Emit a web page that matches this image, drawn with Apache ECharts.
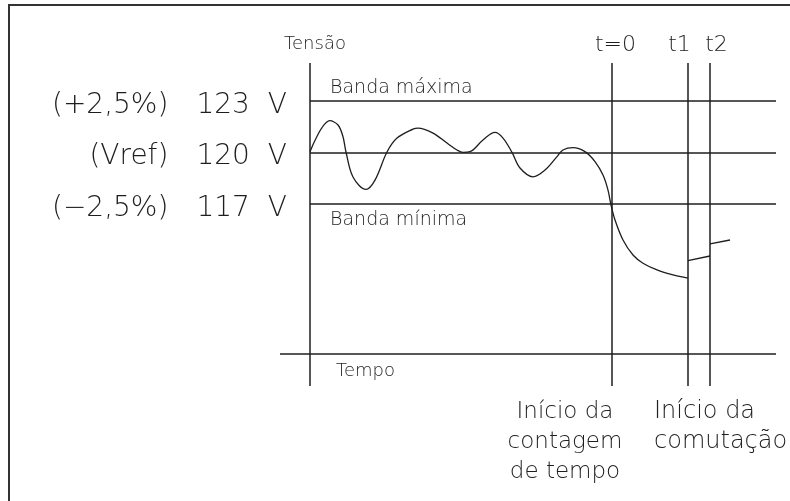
<!DOCTYPE html>
<html>
<head>
<meta charset="utf-8">
<title>Tensão x Tempo</title>
<script src="https://cdn.jsdelivr.net/npm/echarts@6/dist/echarts.min.js"></script>
<style>
  html, body { margin: 0; padding: 0; background: #fff; }
  #chart { width: 790px; height: 501px; }
</style>
</head>
<body>
<div id="chart"></div>
<script>
// voltage curve before the switching (time in arbitrary units, t=0 at the counting start)
const timeMain = [-30.2, -28.2, -27.4, -26.9, -26.6, -25.9, -24.6, -23.7, -22.5, -21.5,
  -19.9, -19.4, -17.9, -16.5, -15.5, -14.9, -14.2, -12.9, -11.7, -10.9,
  -10.0, -9.2, -7.9, -6.7, -5.5, -4.9, -3.9, -2.7, -1.7, -0.9,
  -0.4, -0.1, 0.3, 1.1, 2.1, 3.1, 4.5, 6.1, 7.6];
const voltMain = [120.05, 121.85, 121.6, 120.92, 120.03, 118.58, 117.86, 118.4, 120.03, 120.84,
  121.36, 121.42, 121.13, 120.55, 120.15, 120.01, 120.05, 120.73, 121.17, 120.84,
  120.01, 119.1, 118.59, 118.98, 119.76, 120.15, 120.28, 120.05, 119.47, 118.69,
  117.82, 116.95, 116.08, 114.92, 114.05, 113.57, 113.18, 112.89, 112.7];
// steps after t1 and t2
const timeT1T2 = [7.6, 9.8];
const voltT1T2 = [113.72, 113.99];
const timeAfterT2 = [9.8, 11.8];
const voltAfterT2 = [114.69, 114.92];

// bands
const bandLevels = [123, 120, 117];
const bandTags = ['(+2,5%)', '(Vref)', '(−2,5%)'];
const bandNames = ['Banda máxima', '', 'Banda mínima'];

// vertical markers
const markTimes = [0, 7.6, 9.8];
const markLabels = ['t=0', 't1', 't2'];

const axisTime = -30.2;      // where the Tensão axis stands
const timeAxisLevel = 108.3; // where the Tempo axis stands
const xMin = -33.2, xMax = 16.4;
const yMin = 106.44, yMax = 125.2;

const ink = '#1e1e1e';
const font = 'DejaVu Sans';
const weight = 200;

const pairs = (xs, ys) => xs.map((x, i) => [x, ys[i]]);

const straight = (a, b) => [{ coord: a }, { coord: b }];

const lineData = [
  straight([axisTime, yMin], [axisTime, yMax]),
  straight([xMin, timeAxisLevel], [xMax, timeAxisLevel]),
  ...bandLevels.map((v) => straight([axisTime, v], [xMax, v])),
  ...markTimes.map((t) => straight([t, yMin], [t, yMax])),
];

const txt = (coord, text, position, size, align, vAlign, extra) => ({
  coord: coord,
  symbolSize: 0,
  label: Object.assign({
    show: true,
    formatter: text,
    position: position,
    align: align,
    verticalAlign: vAlign,
    fontSize: size,
    fontFamily: font,
    fontWeight: weight,
    color: ink,
  }, extra || {}),
});

const markOffsets = [[3.5, -18], [-8.5, -18], [6.5, -18]];

const pointData = [
  txt([axisTime, yMax], 'Tensão', [5, -19], 18, 'center', 'middle'),
  ...markTimes.map((t, i) => txt([t, yMax], markLabels[i], markOffsets[i], 22, 'center', 'middle')),
  txt([axisTime, bandLevels[0]], bandNames[0], [20, -12.5], 19, 'left', 'middle'),
  txt([axisTime, bandLevels[2]], bandNames[2], [20, 15.5], 19, 'left', 'middle'),
  txt([axisTime, timeAxisLevel], 'Tempo', [26, 17], 18, 'left', 'middle'),
  txt([markTimes[0], yMin], 'Início da\ncontagem\nde tempo', [-47, 11], 23, 'center', 'top', { lineHeight: 30 }),
  txt([markTimes[1], yMin], 'Início da\ncomutação', [-34, 11], 24, 'left', 'top', { lineHeight: 30 }),
];

const big = { fontSize: 28, fontFamily: font, fontWeight: weight, color: ink };

const chart = echarts.init(document.getElementById('chart'));

chart.setOption({
  animation: false,
  backgroundColor: '#fff',
  grid: { left: 280, right: 14, top: 63, bottom: 115 },
  xAxis: {
    type: 'value', min: xMin, max: xMax, show: false,
  },
  yAxis: {
    type: 'value', min: yMin, max: yMax,
    axisLine: { show: false },
    axisTick: { show: false },
    splitLine: { show: false },
    axisLabel: {
      customValues: bandLevels,
      margin: -7,
      padding: [9, 0, 0, 0],
      formatter: (v) => {
        const i = bandLevels.indexOf(v);
        return '{a|' + bandTags[i] + '}{b|' + v + '}{c|V}';
      },
      rich: {
        a: big,
        b: Object.assign({ padding: [0, 18, 0, 28] }, big),
        c: big,
      },
    },
  },
  graphic: [{
    type: 'rect',
    shape: { x: 9, y: 5, width: 820, height: 540 },
    style: { fill: 'none', stroke: '#333', lineWidth: 2 },
    silent: true,
  }],
  series: [
    {
      type: 'line',
      data: pairs(timeMain, voltMain),
      smooth: 0.35,
      showSymbol: false,
      lineStyle: { color: ink, width: 1.3 },
      markLine: {
        silent: true,
        symbol: ['none', 'none'],
        label: { show: false },
        lineStyle: { color: ink, width: 1.5, type: 'solid' },
        data: lineData,
      },
      markPoint: {
        silent: true,
        symbolSize: 0,
        data: pointData,
      },
    },
    {
      type: 'line',
      data: pairs(timeT1T2, voltT1T2),
      showSymbol: false,
      lineStyle: { color: ink, width: 1.3 },
    },
    {
      type: 'line',
      data: pairs(timeAfterT2, voltAfterT2),
      showSymbol: false,
      lineStyle: { color: ink, width: 1.3 },
    },
  ],
});
</script>
</body>
</html>
